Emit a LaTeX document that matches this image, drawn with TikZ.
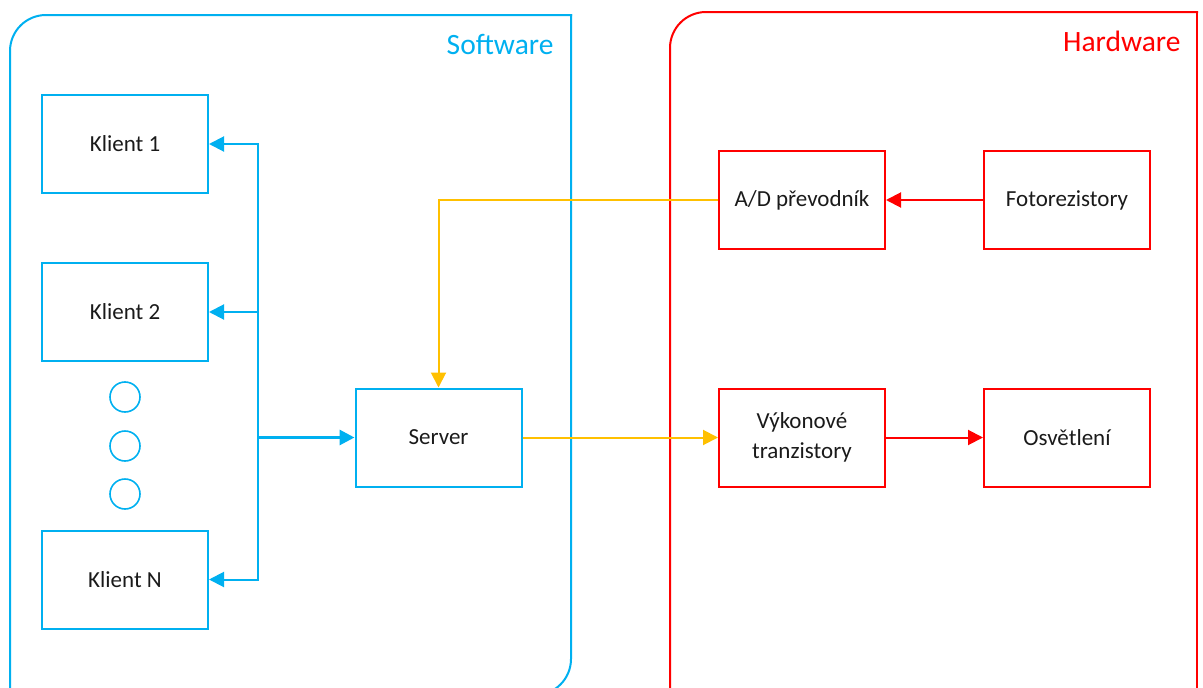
\documentclass[tikz,border=0pt]{standalone}
\usepackage{fontspec}
\setmainfont{Carlito}
\usetikzlibrary{arrows.meta}
\definecolor{swblue}{HTML}{00B0F0}
\definecolor{hwred}{HTML}{FF0000}
\definecolor{sigyellow}{HTML}{FFC000}
\definecolor{txt}{HTML}{1A1A1A}
\tikzset{
  swbox/.style={draw=swblue, line width=2pt, minimum width=166pt, minimum height=98pt,
    inner sep=0pt, text=txt, font=\fontsize{23}{29.5}\selectfont, align=center},
  hwbox/.style={swbox, draw=hwred},
  dot/.style={draw=swblue, line width=1.6pt, circle, minimum size=30pt, inner sep=0pt},
  tip/.style={-{Triangle[length=15pt,width=15pt]}},
  bus/.style={draw=swblue, line width=2pt, tip},
  sig/.style={draw=sigyellow, line width=2pt, tip},
  pwr/.style={draw=hwred, line width=2pt, tip},
  frame/.style={line width=2pt, line cap=rect},
  framelabel/.style={anchor=base east, font=\fontsize{29.5}{31}\selectfont},
}
\begin{document}
\begin{tikzpicture}[x=1pt, y=-1pt]
\useasboundingbox (0,0) rectangle (1203,688);

% software frame: rounded top-left and bottom-right corners
\draw[frame, draw=swblue, rounded corners=36] (10,720) -- (10,15) -- (571,15);
\draw[frame, draw=swblue, rounded corners=36] (571,15) -- (571,695) -- (300,695);
\node[framelabel, text=swblue] (swlabel) at (557,54) {Software};

% hardware frame: rounded top-left corner
\draw[frame, draw=hwred, rounded corners=36] (670,720) -- (670,12) -- (1197,12);
\draw[frame, draw=hwred] (1197,12) -- (1197,720);
\node[framelabel, text=hwred] (hwlabel) at (1184,51) {Hardware};

% clients and server
\node[swbox] (k1) at (125,144) {Klient 1};
\node[swbox] (k2) at (125,312) {Klient 2};
\node[swbox] (kn) at (125,579.5) {Klient N};
\node[dot] (d1) at (125,397) {};
\node[dot] (d2) at (125,446) {};
\node[dot] (d3) at (125,494) {};
\node[swbox] (srv) at (438.5,437.5) {Server};

% hardware blocks
\node[hwbox] (ad) at (802,200) {A/D převodník};
\node[hwbox] (foto) at (1067,200) {Fotorezistory};
\node[hwbox] (vyk) at (802,437.5) {Výkonové\\tranzistory};
\node[hwbox] (osv) at (1067,437.5) {Osvětlení};

% client bus
\coordinate (bm) at (258,437.5);
\draw[bus] (bm) |- (k1.east);
\draw[bus] (bm) |- (k2.east);
\draw[bus] (bm) |- (kn.east);
\draw[bus, line width=3pt] (bm) -- (srv.west);

% signal paths
\draw[sig] (ad.west) -| (srv.north);
\draw[sig] (srv.east) -- (vyk.west);
\draw[pwr] (foto.west) -- (ad.east);
\draw[pwr] (vyk.east) -- (osv.west);
\end{tikzpicture}
\end{document}
